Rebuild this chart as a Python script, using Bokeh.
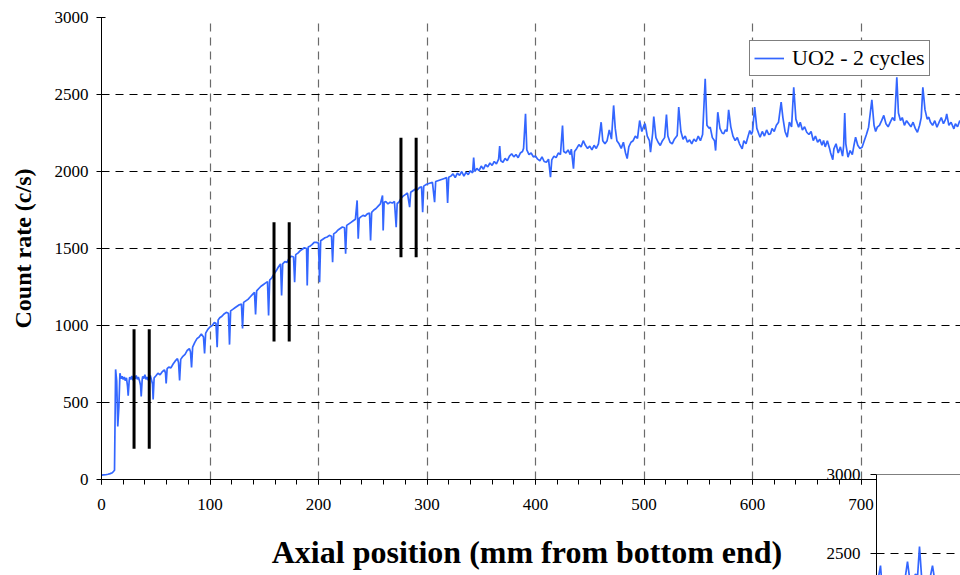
from bokeh.plotting import figure
from bokeh.models import (SingleIntervalTicker, FixedTicker, Legend, LegendItem, Range1d, Span)
from bokeh.embed import file_html
from bokeh.resources import INLINE

# ---------------- data ----------------
axial_mm = [
    0, 2, 4, 6, 8, 10, 11, 12, 13, 14, 15, 16, 17, 18, 19, 20, 21, 22, 23, 24, 24.6, 25.5,
    26, 27, 28, 29, 30, 31, 32, 33, 34, 35, 36, 36.6, 37.5, 38, 39, 40, 41, 42, 43, 44,
    45, 46, 47, 47.6, 48.5, 50, 52, 54, 56, 58, 59, 59.6, 60.5, 62, 64, 66, 68, 70, 71, 72,
    73, 75, 77, 79, 81, 82, 83, 84, 86, 88, 90, 92, 94, 95, 96, 98, 100, 102, 104, 105.5,
    106.6, 107.5, 109, 111, 113, 115, 117, 118, 119, 121, 123, 125, 127, 129, 130, 131,
    133, 135, 137, 139, 141, 142, 143, 145, 147, 149, 151, 153, 154, 155, 157, 159, 161,
    163, 165, 166, 167, 169, 171, 173, 175, 177, 178, 179, 181, 183, 185, 187, 189, 189.6,
    190.5, 192, 194, 196, 198, 200, 201, 202, 204, 206, 208, 210, 212, 213, 214, 216, 218,
    220, 222, 224, 225, 226, 228, 230, 232, 234, 235.6, 236.6, 237.5, 239, 241, 243, 245,
    247, 248, 249, 251, 253, 255, 257, 259, 259.6, 260.5, 262, 264, 266, 268, 270, 271.6,
    272.5, 274, 276, 278, 280, 282, 284, 285, 287, 289, 291, 293, 295, 296, 297, 299, 301,
    303, 305, 307, 308, 310, 312, 314, 316, 318, 319, 320, 322, 324, 326, 328, 330, 332,
    334, 336, 338, 340, 342, 343, 344, 346, 348, 350, 352, 354, 356, 358, 360, 362, 364,
    366, 367, 368, 370, 372, 374, 376, 378, 380, 382, 384, 386, 388, 389, 390.8, 392, 394,
    396, 398, 400, 402, 404, 406, 408, 410, 412, 413.8, 415, 417, 419, 421, 423, 424.9,
    426, 428, 430, 432, 433, 435, 436, 438, 440, 442, 444, 446, 448, 450, 452, 454, 456,
    458, 460.5, 462, 464, 466, 468, 470, 472, 473.5, 475, 477, 479, 481, 483, 484.5, 486,
    488, 490, 492, 494, 496, 498, 500, 501, 503, 505, 506, 508, 509, 511, 513, 515, 517,
    519, 520.7, 522, 524, 526, 528, 530.6, 532, 534, 536, 538, 540, 542, 544, 546, 548,
    550, 552, 554, 556.4, 558, 560, 561, 563, 565, 566, 568, 570, 572, 573.5, 575, 576.5,
    578, 580, 582, 584, 586, 588, 590.5, 592, 594, 596, 597.5, 599, 600, 602, 604, 606,
    607, 609, 611, 613, 615, 616.6, 618, 620, 622, 624, 626.4, 628, 630, 632, 634, 636,
    638, 640, 642.5, 644, 646, 648, 650, 652, 654, 656, 658, 660, 662, 664, 665.5, 667,
    669, 671, 672, 674, 675, 677, 679, 681, 683, 684, 685, 686, 688, 690, 692, 693.5, 695,
    697, 699, 701, 703, 705, 707, 710, 712, 713.5, 715, 717, 719, 721, 723, 725, 727, 729,
    731, 733, 734.5, 736.4, 738, 740, 742, 744, 746, 748, 750, 752, 754, 755.5, 757, 759,
    761, 762.5, 764, 766, 768, 770, 772, 774, 776, 778, 779, 781, 783, 785.6, 787, 789,
    791, 792,
]
count_rate = [
    28, 30, 31, 34, 38, 44, 52, 60, 715, 640, 345, 470, 690, 655, 670, 650, 665, 642, 660, 605, 545, 640,
    665, 650, 672, 645, 660, 655, 676, 650, 665, 642, 612, 540, 650, 670, 655, 680, 650, 665, 645, 660,
    675, 650, 620, 520, 660, 672, 690, 680, 700, 712, 690, 623, 720, 730, 725, 750, 770, 785, 760, 643,
    780, 800, 812, 838, 850, 830, 727, 860, 890, 915, 925, 945, 925, 818, 950, 975, 990, 1000, 1020, 1015,
    859, 1035, 1050, 1060, 1075, 1085, 1080, 876, 1095, 1105, 1115, 1125, 1135, 1140, 980, 1150,
    1160, 1170, 1185, 1200, 1215, 1071, 1225, 1240, 1255, 1265, 1275, 1285, 1065, 1295, 1310, 1335, 1355,
    1380, 1400, 1195, 1400, 1415, 1410, 1440, 1450, 1445, 1281, 1460, 1470, 1485, 1495, 1505, 1500, 1260,
    1510, 1515, 1525, 1540, 1540, 1535, 1281, 1550, 1560, 1570, 1575, 1585, 1580, 1411, 1595, 1605, 1620,
    1630, 1640, 1635, 1466, 1650, 1660, 1670, 1680, 1690, 1812, 1563, 1695, 1705, 1715, 1710, 1725,
    1730, 1552, 1735, 1750, 1760, 1775, 1790, 1844, 1617, 1800, 1805, 1790, 1800, 1795, 1805, 1638,
    1792, 1800, 1825, 1840, 1850, 1860, 1768, 1865, 1875, 1885, 1880, 1895, 1900, 1736, 1905, 1915, 1920,
    1925, 1930, 1801, 1935, 1940, 1945, 1950, 1955, 1960, 1795, 1962, 1970, 1985, 1960, 1990, 1975, 2000,
    1970, 1995, 1980, 2005, 1990, 2090, 2000, 2020, 2005, 2035, 2015, 2045, 2030, 2055, 2040, 2065, 2050,
    2080, 2165, 2070, 2060, 2085, 2070, 2100, 2115, 2095, 2110, 2090, 2120, 2130, 2150, 2374, 2140, 2110,
    2120, 2095, 2100, 2080, 2070, 2095, 2065, 2060, 2080, 1963, 2075, 2100, 2090, 2120, 2110, 2298,
    2130, 2120, 2140, 2110, 2145, 2019, 2130, 2150, 2175, 2160, 2200, 2170, 2150, 2165, 2140, 2170, 2150,
    2180, 2320, 2200, 2180, 2200, 2270, 2210, 2429, 2280, 2200, 2180, 2150, 2190, 2120, 2084, 2160,
    2190, 2200, 2230, 2215, 2331, 2260, 2300, 2311, 2230, 2200, 2125, 2250, 2357, 2220, 2190, 2169, 2200,
    2220, 2370, 2230, 2190, 2180, 2210, 2234, 2418, 2260, 2210, 2230, 2190, 2205, 2180, 2210, 2195,
    2230, 2200, 2240, 2602, 2300, 2280, 2288, 2220, 2200, 2136, 2385, 2280, 2250, 2245, 2270, 2260,
    2400, 2290, 2230, 2201, 2220, 2180, 2147, 2200, 2180, 2230, 2266, 2240, 2260, 2418, 2280, 2240,
    2223, 2260, 2230, 2270, 2240, 2245, 2280, 2260, 2300, 2320, 2450, 2350, 2260, 2223, 2320, 2290,
    2547, 2340, 2288, 2320, 2270, 2290, 2255, 2240, 2260, 2201, 2230, 2190, 2210, 2170, 2201, 2160,
    2200, 2150, 2120, 2077, 2147, 2180, 2120, 2160, 2100, 2169, 2379, 2180, 2093, 2136, 2110, 2170, 2223,
    2170, 2150, 2158, 2200, 2240, 2288, 2466, 2300, 2260, 2288, 2300, 2330, 2364, 2310, 2290, 2320, 2350,
    2330, 2612, 2380, 2331, 2350, 2300, 2330, 2310, 2290, 2320, 2280, 2255, 2300, 2350, 2547, 2400,
    2340, 2353, 2320, 2300, 2330, 2288, 2320, 2350, 2310, 2340, 2374, 2300, 2320, 2277, 2310, 2290,
    2330, 2320,
]

# vertical black marker bars (pellet-pair positions)
bar_x = [30, 44, 159, 173, 276, 290]
bar_bottom = [200, 200, 896, 896, 1443, 1443]
bar_top = [975, 975, 1670, 1670, 2219, 2219]

series_label = "UO2 - 2 cycles"
x_title = "Axial position  (mm from bottom end)"
y_title = "Count rate (c/s)"
y_grid_vals = [500, 1000, 1500, 2000, 2500]
x_grid_vals = [100, 200, 300, 400, 500, 600, 700]

# partial second chart visible in the lower-right corner
inset_x = [0, 2, 4, 5, 7, 10, 14, 18, 22, 26, 29, 31, 33, 36, 39, 41, 43, 45, 48, 51, 54,
           56, 58, 62, 66, 70, 74, 78, 82]
inset_y = [2330, 2350, 2424, 2340, 2300, 2320, 2310, 2340, 2300, 2330, 2360, 2449, 2350,
           2330, 2370, 2350, 2544, 2360, 2340, 2330, 2360, 2424, 2340, 2320, 2300, 2330, 2310,
           2320, 2300]
inset_yticks = [2500, 3000]

FONT = "Liberation Serif"
BLUE = "#3366FF"
W, H = 960, 575

# ---------------- main chart ----------------
p = figure(width=W, height=H, output_backend="svg", toolbar_location=None,
           x_range=Range1d(0, 791.7), y_range=Range1d(0, 3000),
           min_border_left=101, min_border_right=0, min_border_top=17, min_border_bottom=96)
p.background_fill_color = "white"
p.border_fill_color = "white"
p.outline_line_color = None

line_r = p.line(axial_mm, count_rate, line_color=BLUE, line_width=1.7)
p.segment(x0=bar_x, y0=bar_bottom, x1=bar_x, y1=bar_top, line_color="black", line_width=3)

# axes
xa = p.xaxis[0]
xa.ticker = SingleIntervalTicker(interval=100, num_minor_ticks=5)
xa.axis_label = x_title
xa.axis_label_text_font = FONT
xa.axis_label_text_font_style = "bold"
xa.axis_label_text_font_size = "32px"
xa.axis_label_text_color = "black"
xa.axis_label_standoff = 21
xa.major_label_text_font = FONT
xa.major_label_text_font_size = "17px"
xa.major_label_text_color = "black"
xa.major_label_standoff = 14
xa.major_tick_in = 0
xa.major_tick_out = 5
xa.minor_tick_in = 0
xa.minor_tick_out = 5
xa.axis_line_color = "black"
xa.major_tick_line_color = "black"
xa.minor_tick_line_color = "black"

ya = p.yaxis[0]
ya.ticker = SingleIntervalTicker(interval=500)
ya.axis_label = y_title
ya.axis_label_text_font = FONT
ya.axis_label_text_font_style = "bold"
ya.axis_label_text_font_size = "24px"
ya.axis_label_text_color = "black"
ya.axis_label_standoff = 16
ya.major_label_text_font = FONT
ya.major_label_text_font_size = "17px"
ya.major_label_text_color = "black"
ya.major_label_standoff = 8
ya.major_tick_in = 4
ya.major_tick_out = 5
ya.minor_tick_line_color = None
ya.axis_line_color = "black"
ya.major_tick_line_color = "black"

# grids
p.xgrid.ticker = FixedTicker(ticks=x_grid_vals)
p.xgrid.grid_line_color = "#6a6a6a"
p.xgrid.grid_line_dash = "8 6"
p.xgrid.grid_line_width = 1.2
p.ygrid.ticker = FixedTicker(ticks=y_grid_vals)
p.ygrid.grid_line_color = "black"
p.ygrid.grid_line_dash = "8 6"

legend = Legend(items=[LegendItem(label=series_label, renderers=[line_r])],
                location=(648, 403))
legend.label_text_font = FONT
legend.label_text_font_size = "22px"
legend.label_text_color = "black"
legend.border_line_color = "black"
legend.border_line_width = 1
legend.background_fill_color = "white"
legend.background_fill_alpha = 1
legend.padding = 4
legend.spacing = 0
legend.margin = 0
legend.glyph_width = 30
legend.glyph_height = 20
legend.label_standoff = 8
p.add_layout(legend)

# ---------------- partial second chart (lower right, overlapping) ----------------
inset = figure(width=146, height=111, output_backend="svg", toolbar_location=None,
               x_range=Range1d(0, 84), y_range=Range1d(2361, 3000),
               x_axis_location=None,
               min_border_left=62, min_border_right=0, min_border_top=10, min_border_bottom=0)
inset.background_fill_color = "white"
inset.border_fill_color = None
inset.outline_line_color = None
inset.line(inset_x, inset_y, line_color=BLUE, line_width=1.7)
inset.add_layout(Span(location=3000, dimension="width", line_color="black", line_width=1))
iy = inset.yaxis[0]
iy.ticker = FixedTicker(ticks=inset_yticks)
iy.major_label_text_font = FONT
iy.major_label_text_font_size = "17px"
iy.major_label_text_color = "black"
iy.major_label_standoff = 10
iy.major_tick_in = 0
iy.major_tick_out = 6
iy.minor_tick_line_color = None
iy.axis_line_color = "black"
iy.major_tick_line_color = "black"
inset.xgrid.grid_line_color = None
inset.ygrid.ticker = FixedTicker(ticks=[2500])
inset.ygrid.grid_line_color = "black"
inset.ygrid.grid_line_dash = "8 6"
inset.styles = {"position": "absolute", "left": "814px", "top": "464px"}

open("out.html", "w").write(file_html([p, inset], INLINE))
